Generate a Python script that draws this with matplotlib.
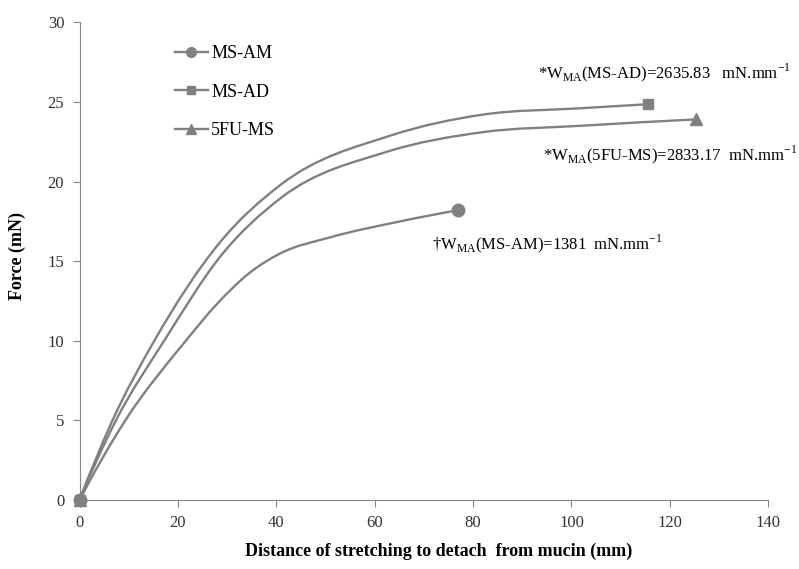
import matplotlib.pyplot as plt
from matplotlib.path import Path
from matplotlib.patches import PathPatch
from matplotlib.lines import Line2D

plt.rcParams['font.family'] = ['Liberation Serif', 'DejaVu Serif']
plt.rcParams['mathtext.fontset'] = 'custom'
plt.rcParams['mathtext.rm'] = 'Liberation Serif'

# valores (distancia mm, fuerza mN)
ad_x = [0, 6.7, 15.2, 28.6, 40.9, 63.4, 82, 102, 115.5]
ad_y = [0, 5, 10, 16.2, 19.8, 22.9, 24.2, 24.6, 24.85]

fu_x = [0, 7.4, 17.2, 28.9, 40.9, 62.3, 82, 102, 125.4]
fu_y = [0, 5, 10, 15.4, 18.96, 21.85, 23.1, 23.5, 23.9]

am_x = [0, 9.3, 21.6, 27.9, 34.7, 40.9, 51, 65.2, 77]
am_y = [0, 5, 10, 12.3, 14.3, 15.5, 16.5, 17.5, 18.2]

gris = "#808080"


# linea suavizada (hermite cubica dibujada como bezier)
def curva(ax, xs, ys):
    n = len(xs)
    h = [xs[i + 1] - xs[i] for i in range(n - 1)]
    sec = [(ys[i + 1] - ys[i]) / h[i] for i in range(n - 1)]
    m = [0] * n
    for i in range(1, n - 1):
        m[i] = (h[i] * sec[i - 1] + h[i - 1] * sec[i]) / (h[i - 1] + h[i])
    m[0] = 2 * sec[0] - m[1]
    m[-1] = 2 * sec[-1] - m[-2]
    verts = [(xs[0], ys[0])]
    codes = [Path.MOVETO]
    for i in range(n - 1):
        verts += [(xs[i] + h[i] / 3, ys[i] + m[i] * h[i] / 3),
                  (xs[i + 1] - h[i] / 3, ys[i + 1] - m[i + 1] * h[i] / 3),
                  (xs[i + 1], ys[i + 1])]
        codes += [Path.CURVE4] * 3
    ax.add_patch(PathPatch(Path(verts, codes), fill=False, edgecolor=gris, lw=1.7,
                           capstyle="round", joinstyle="round"))


fig = plt.figure(figsize=(7.99, 5.69), dpi=100)
ax = fig.add_axes([0.0995, 0.121, 0.862, 0.840])

curva(ax, am_x, am_y)
curva(ax, ad_x, ad_y)
curva(ax, fu_x, fu_y)

ax.plot(am_x, am_y, ls="none", color=gris, marker="o", ms=9, markevery=[0, -1], clip_on=False)
ax.plot(ad_x, ad_y, ls="none", color=gris, marker="s", ms=7, markevery=[0, -1], clip_on=False)
ax.plot(fu_x, fu_y, ls="none", color=gris, marker="^", ms=8, markevery=[0, -1], clip_on=False)

ax.set_xlim(0, 140)
ax.set_ylim(0, 30)
ax.set_xticks(range(0, 141, 20))
ax.set_yticks(range(0, 31, 5))

for s in ["top", "right"]:
    ax.spines[s].set_visible(False)
for s in ["left", "bottom"]:
    ax.spines[s].set_color("#868686")
ax.tick_params(colors="#868686", labelcolor="#333333", labelsize=12, length=5, pad=6)

ax.set_xlabel("Distance of stretching to detach  from mucin (mm)", fontweight="bold", fontsize=13)
ax.set_ylabel("Force (mN)", fontweight="bold", fontsize=13)
ax.xaxis.set_label_coords(0.522, -0.088)
ax.yaxis.set_label_coords(-0.077, 0.51)

ax.text(93.1, 26.8, r"*W$_{\mathregular{MA}}$(MS-AD)=2635.83   mN.mm$^{\mathregular{-1}}$", fontsize=12, va="center")
ax.text(94.2, 21.7, r"*W$_{\mathregular{MA}}$(5FU-MS)=2833.17  mN.mm$^{\mathregular{-1}}$", fontsize=12, va="center")
ax.text(71.7, 16.1, r"†W$_{\mathregular{MA}}$(MS-AM)=1381  mN.mm$^{\mathregular{-1}}$", fontsize=12, va="center")

handles = [
    Line2D([], [], color=gris, lw=1.7, marker="o", ms=7),
    Line2D([], [], color=gris, lw=1.7, marker="s", ms=6),
    Line2D([], [], color=gris, lw=1.7, marker="^", ms=6.5),
]
ax.legend(handles, ["MS-AM", "MS-AD", "5FU-MS"], loc="upper left", bbox_to_anchor=(0.139, 0.952),
          frameon=False, fontsize=13, borderpad=0, borderaxespad=0,
          labelspacing=1.2, handlelength=1.8, handletextpad=0.2)

fig.savefig("out.png", dpi=100)
